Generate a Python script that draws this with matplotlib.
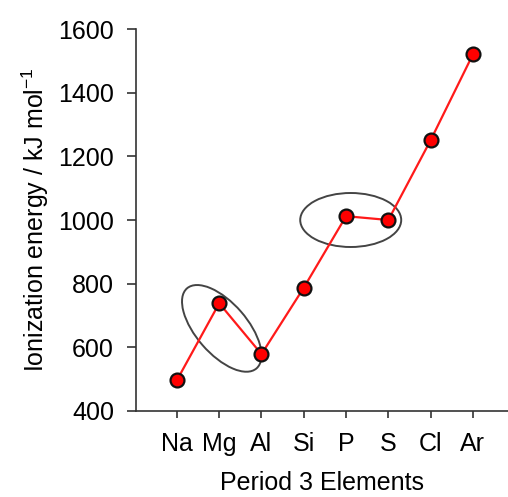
import matplotlib
matplotlib.use('Agg')
import matplotlib.pyplot as plt
from matplotlib.patches import Ellipse
from matplotlib.transforms import ScaledTranslation

elements = ['Na', 'Mg', 'Al', 'Si', 'P', 'S', 'Cl', 'Ar']
energy = [496, 738, 578, 787, 1012, 1000, 1251, 1521]
y_ticks = [400, 600, 800, 1000, 1200, 1400, 1600]

plt.rcParams['font.family'] = ['Liberation Sans', 'DejaVu Sans']

fig = plt.figure(figsize=(5.08, 4.97), dpi=100)
ax = fig.add_axes([135.5 / 508, 86.3 / 497, 1 - 135.5 / 508, 381.4 / 497])

x = list(range(len(elements)))
ax.plot(x, energy, color='#ff1a1a', lw=1.6, marker='o', ms=10,
        markerfacecolor='#ff0000', markeredgecolor='#111111', markeredgewidth=1.6,
        clip_on=False, zorder=3)

# circled anomalies, sized in inches around a data centre
for cx, cy, w, h, ang in [(1.06, 659, 1.06, 0.51, -49), (4.11, 1000, 1.01, 0.54, 0)]:
    tr = fig.dpi_scale_trans + ScaledTranslation(cx, cy, ax.transData)
    ax.add_patch(Ellipse((0, 0), w, h, angle=ang, transform=tr, fill=False,
                         edgecolor='#444444', lw=1.4, zorder=2))

ax.set_xlim(-0.98, 7.83)
ax.set_ylim(400, 1600)
ax.set_xticks(x)
ax.set_xticklabels(elements)
ax.set_yticks(y_ticks)

for s in ['top', 'right']:
    ax.spines[s].set_visible(False)
for s in ['left', 'bottom']:
    ax.spines[s].set_color('#333333')
    ax.spines[s].set_linewidth(1.2)

ax.tick_params(axis='both', direction='out', length=5, width=1.2, color='#333333',
               labelsize=18, labelcolor='#000000')
ax.tick_params(axis='y', length=6.5, pad=9)
ax.tick_params(axis='x', pad=10)

ax.set_xlabel('Period 3 Elements', fontsize=18, color='#000000', labelpad=11)
ax.set_ylabel('Ionization energy / kJ mol$^{\\mathregular{-1}}$', fontsize=18, color='#000000', labelpad=5)

fig.savefig('out.png', dpi=100)
